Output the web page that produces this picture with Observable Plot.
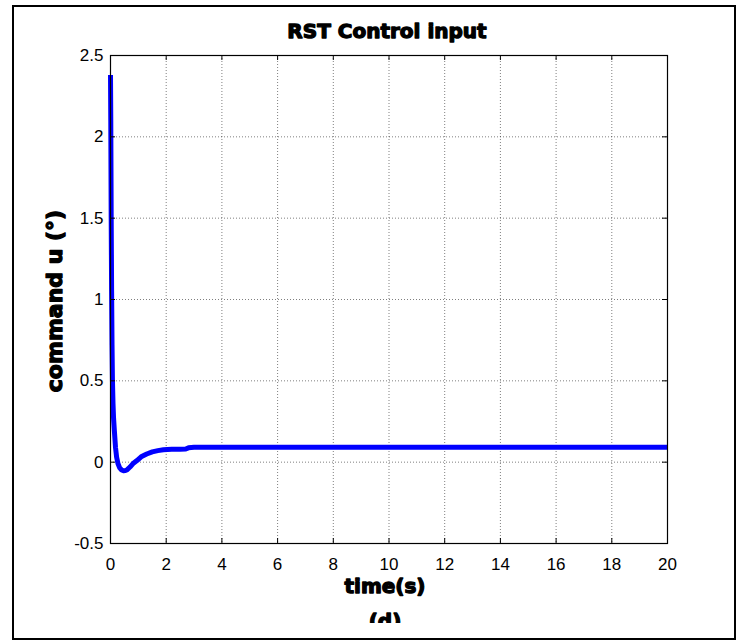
<!DOCTYPE html>
<html>
<head>
<meta charset="utf-8">
<script src="https://cdn.jsdelivr.net/npm/d3@7"></script>
<script src="https://cdn.jsdelivr.net/npm/@observablehq/plot@0.6"></script>
<style>
  html, body { margin: 0; padding: 0; background: #fff; }
  #chart { position: relative; width: 739px; height: 642px; }
</style>
</head>
<body>
<div id="chart"></div>
<script>
// Data
const time =    [0,    0.01, 0.025, 0.04, 0.055, 0.07, 0.09, 0.11, 0.14, 0.18, 0.22, 0.27, 0.33, 0.4,   0.47,   0.53,   0.6,    0.7,   0.8,   0.95, 1.1,   1.3,   1.5,   1.7,   1.9,   2.2,   2.5,  2.7,   2.8,   3.0,   5,     10,    15,    20];
const command = [2.38, 2.1,  1.5,   1.05, 0.72,  0.5,  0.36, 0.27, 0.19, 0.09, 0.03, -0.01, -0.035, -0.048, -0.053, -0.052, -0.046, -0.03, -0.01, 0.01, 0.033, 0.05,  0.063, 0.071, 0.076, 0.079, 0.08, 0.081, 0.088, 0.091, 0.092, 0.092, 0.092, 0.092];
const xTicks = [0, 2, 4, 6, 8, 10, 12, 14, 16, 18, 20];
const yTicks = [-0.5, 0, 0.5, 1, 1.5, 2, 2.5];
const titleText = "RST Control input";
const xLabel = "time(s)";
const yLabel = "command u (°)";
const subLabel = "(d)";

const data = time.map((t, i) => ({t, u: command[i]}));

const W = 739, H = 642;
const mL = 110, mR = 72, mT = 55, mB = 99;
const innerW = W - mL - mR, innerH = H - mT - mB;
const tickLen = 5;

const plot = Plot.plot({
  width: W,
  height: H,
  marginLeft: mL,
  marginRight: mR,
  marginTop: mT,
  marginBottom: mB,
  style: {fontFamily: "'Liberation Sans', Arial, sans-serif", fontSize: "17px", color: "#000", background: "#fff"},
  x: {domain: [0, 20], ticks: xTicks},
  y: {domain: [-0.5, 2.5], ticks: yTicks},
  marks: [
    Plot.gridX(xTicks, {stroke: "#000", strokeOpacity: 0.5, strokeDasharray: "1,2"}),
    Plot.gridY(yTicks, {stroke: "#000", strokeOpacity: 0.5, strokeDasharray: "1,2"}),
    Plot.line(data, {x: "t", y: "u", stroke: "#0000ff", strokeWidth: 5, curve: "linear", strokeLinejoin: "round", strokeLinecap: "butt"}),
    // inward ticks (MATLAB style)
    Plot.tickX(xTicks, {x: d => d, stroke: "#000", insetTop: innerH - tickLen}),
    Plot.tickX(xTicks, {x: d => d, stroke: "#000", insetBottom: innerH - tickLen}),
    Plot.tickY(yTicks, {y: d => d, stroke: "#000", insetRight: innerW - tickLen}),
    Plot.tickY(yTicks, {y: d => d, stroke: "#000", insetLeft: innerW - tickLen}),
    Plot.frame({stroke: "#000", strokeWidth: 1.2}),
    Plot.axisX(xTicks, {tickSize: 0, tickPadding: 14, label: null, fontSize: 17, tickFormat: d => String(d)}),
    Plot.axisY(yTicks, {tickSize: 0, tickPadding: 7, label: null, fontSize: 17, tickFormat: d => String(d)})
  ]
});

document.getElementById("chart").appendChild(plot);

const svg = d3.select(plot);
// outer figure border
svg.append("rect")
  .attr("x", 13).attr("y", 6).attr("width", 722).attr("height", 633)
  .attr("fill", "none").attr("stroke", "#000").attr("stroke-width", 2);

const heavy = (sel, size) => sel
  .attr("font-family", "'DejaVu Sans', sans-serif")
  .attr("font-weight", "bold")
  .attr("font-size", size)
  .attr("fill", "#000")
  .attr("stroke", "#000")
  .attr("stroke-width", 1.3)
  .attr("stroke-linejoin", "round")
  .attr("text-anchor", "middle");

heavy(svg.append("text"), 20).attr("x", 387).attr("y", 38).text(titleText);
heavy(svg.append("text"), 20).attr("x", 385).attr("y", 593).text(xLabel);
heavy(svg.append("text"), 22).attr("transform", "translate(62,301) rotate(-90)").text(yLabel);

// clipped "(d)" label
const defs = svg.append("defs");
defs.append("clipPath").attr("id", "clipd")
  .append("rect").attr("x", 300).attr("y", 600).attr("width", 170).attr("height", 23);
heavy(svg.append("text"), 20).attr("x", 385).attr("y", 628).attr("clip-path", "url(#clipd)").text(subLabel);
</script>
</body>
</html>
